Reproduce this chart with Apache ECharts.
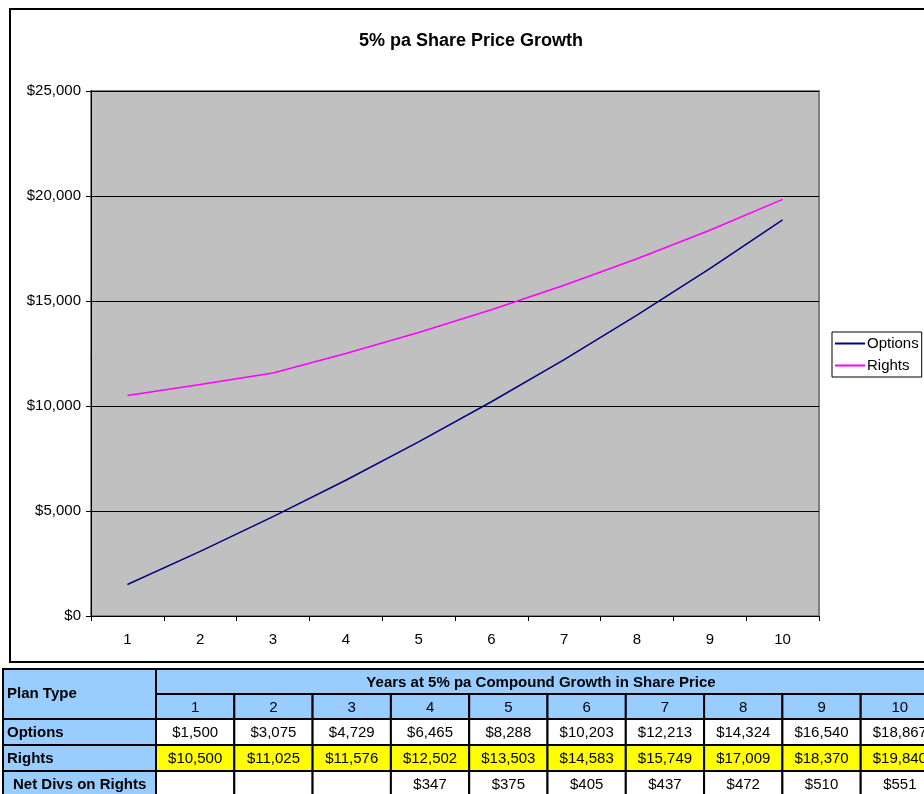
<!DOCTYPE html>
<html>
<head>
<meta charset="utf-8">
<script src="https://cdn.jsdelivr.net/npm/echarts@6/dist/echarts.min.js"></script>
<style>
  html, body { margin: 0; padding: 0; background: #ffffff; }
  #chart { width: 924px; height: 794px; }
</style>
</head>
<body>
<div id="chart"></div>
<script>
// Years of compound growth
const years = ['1', '2', '3', '4', '5', '6', '7', '8', '9', '10'];
// Plan values per year
const options = [1500, 3075, 4729, 6465, 8288, 10203, 12213, 14324, 16540, 18867];
const rights = [10500, 11025, 11576, 12502, 13503, 14583, 15749, 17009, 18370, 19840];
const netDivs = [null, null, null, 347, 375, 405, 437, 472, 510, 551];
// Y axis range
const yMin = 0, yMax = 25000, yStep = 5000;

const FONT = "'Liberation Sans', Arial, sans-serif";
const money = v => (v === null || v === undefined) ? '' : '$' + v.toLocaleString('en-US');

// ---- data table underneath the chart ----
const tbl = {
  x0: 3, firstColRight: 156, colW: 78.3,
  rows: [669, 694, 719, 745, 771, 797]
};
const BLUE = '#99CCFF', YELLOW = '#FFFF00', WHITE = '#FFFFFF';

function cell(x, y, w, h, fill) {
  return { type: 'rect', shape: { x, y, width: w, height: h },
    style: { fill, stroke: '#000', lineWidth: 2 }, z: 10 };
}
function label(x, y, text, opts) {
  return { type: 'text', x, y, z: 12,
    style: Object.assign({ text, font: '15px ' + FONT, fill: '#000',
      align: 'center', verticalAlign: 'middle' }, opts || {}) };
}

const tableEls = [];
const R = tbl.rows;
const dataLeft = tbl.firstColRight;
const dataRight = dataLeft + tbl.colW * years.length;
// "Plan Type" spans two header rows
tableEls.push(cell(tbl.x0, R[0], dataLeft - tbl.x0, R[2] - R[0], BLUE));
tableEls.push(label(tbl.x0 + 4, (R[0] + R[2]) / 2, 'Plan Type', { align: 'left', font: 'bold 15px ' + FONT }));
// merged heading across the year columns
tableEls.push(cell(dataLeft, R[0], dataRight - dataLeft, R[1] - R[0], BLUE));
tableEls.push(label(541, (R[0] + R[1]) / 2 + 1,
  'Years at 5% pa Compound Growth in Share Price', { font: 'bold 15px ' + FONT }));

const bodyRows = [
  { name: 'Options', values: options, fill: WHITE, indent: 4 },
  { name: 'Rights', values: rights, fill: YELLOW, indent: 4 },
  { name: 'Net Divs on Rights', values: netDivs, fill: WHITE, indent: 10 }
];

years.forEach((yr, i) => {
  const x = dataLeft + tbl.colW * i;
  tableEls.push(cell(x, R[1], tbl.colW, R[2] - R[1], BLUE));
  tableEls.push(label(x + tbl.colW / 2, (R[1] + R[2]) / 2 + 1, yr));
});

bodyRows.forEach((row, r) => {
  const y0 = R[2 + r], y1 = R[3 + r];
  tableEls.push(cell(tbl.x0, y0, dataLeft - tbl.x0, y1 - y0, BLUE));
  tableEls.push(label(tbl.x0 + row.indent, (y0 + y1) / 2 + 1, row.name, { align: 'left', font: 'bold 15px ' + FONT }));
  row.values.forEach((v, i) => {
    const x = dataLeft + tbl.colW * i;
    tableEls.push(cell(x, y0, tbl.colW, y1 - y0, row.fill));
    tableEls.push(label(x + tbl.colW / 2, (y0 + y1) / 2 + 1, money(v)));
  });
});

// chart frame
const frame = { type: 'rect', shape: { x: 10, y: 9, width: 960, height: 653 },
  style: { fill: 'none', stroke: '#000', lineWidth: 2 }, z: 5, silent: true };

const chart = echarts.init(document.getElementById('chart'), null, { renderer: 'canvas' });
chart.setOption({
  animation: false,
  backgroundColor: '#ffffff',
  textStyle: { fontFamily: FONT },
  title: {
    text: '5% pa Share Price Growth',
    left: 466, top: 27, textAlign: 'center',
    textStyle: { fontFamily: FONT, fontSize: 18, fontWeight: 'bold', color: '#000' }
  },
  legend: {
    orient: 'vertical',
    left: 832, top: 332,
    padding: [4, 3, 4, 3],
    borderColor: '#000', borderWidth: 1,
    backgroundColor: '#fff',
    itemWidth: 30, itemHeight: 2, itemGap: 7,
    icon: 'rect',
    textStyle: { fontFamily: FONT, fontSize: 15, color: '#000', padding: [0, 0, 0, -3] },
    data: ['Options', 'Rights']
  },
  grid: {
    left: 91, right: 105, top: 91, bottom: 178,
    show: true, backgroundColor: '#C0C0C0', borderColor: '#808080', borderWidth: 2
  },
  xAxis: {
    type: 'category',
    data: years,
    boundaryGap: true,
    axisLine: { lineStyle: { color: '#000', width: 1 } },
    axisTick: { show: true, length: 5, inside: false, lineStyle: { color: '#000' } },
    axisLabel: { fontFamily: FONT, fontSize: 15, color: '#000', margin: 16 },
    splitLine: { show: false }
  },
  yAxis: {
    type: 'value',
    min: yMin, max: yMax, interval: yStep,
    axisLine: { show: true, lineStyle: { color: '#000', width: 1 } },
    axisTick: { show: true, length: 5, lineStyle: { color: '#000' } },
    axisLabel: { fontFamily: FONT, fontSize: 15, color: '#000', margin: 10,
      formatter: v => money(v) },
    splitLine: { show: true, lineStyle: { color: '#000', width: 1 } }
  },
  series: [
    { name: 'Options', type: 'line', data: options, symbol: 'none',
      lineStyle: { color: '#000080', width: 1.5 }, itemStyle: { color: '#000080' } },
    { name: 'Rights', type: 'line', data: rights, symbol: 'none',
      lineStyle: { color: '#FF00FF', width: 1.5 }, itemStyle: { color: '#FF00FF' } }
  ],
  graphic: [frame].concat(tableEls)
});
</script>
</body>
</html>
